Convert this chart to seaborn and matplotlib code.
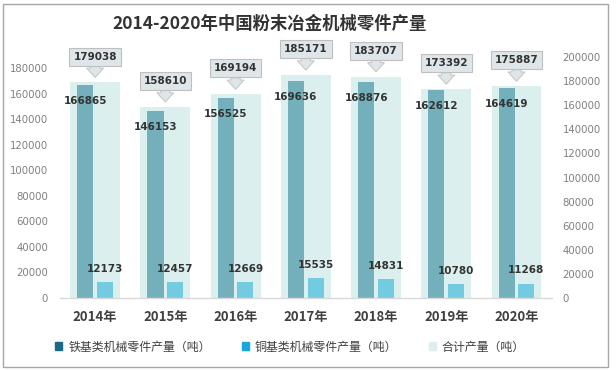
import matplotlib
matplotlib.use("Agg")
import matplotlib.pyplot as plt
from matplotlib.patches import Patch, Rectangle
import seaborn as sns
import pandas as pd

years = ["2014年", "2015年", "2016年", "2017年", "2018年", "2019年", "2020年"]
iron = [166865, 146153, 156525, 169636, 168876, 162612, 164619]
copper = [12173, 12457, 12669, 15535, 14831, 10780, 11268]
total = [179038, 158610, 169194, 185171, 183707, 173392, 175887]
series_names = ["铁基类机械零件产量（吨）", "铜基类机械零件产量（吨）", "合计产量（吨）"]
left_ticks = list(range(0, 180001, 20000))
right_ticks = list(range(0, 200001, 20000))

sns.set_style("white")
plt.rcParams['font.family'] = ['Noto Sans CJK SC', 'DejaVu Sans']

fig = plt.figure(figsize=(6.16, 3.70), dpi=100)
ax = fig.add_axes([60 / 616, 72 / 370, 491.6 / 616, 241 / 370])
ax2 = ax.twinx()

C_TOTAL = "#dbf0ee"
C_IRON = "#74b0bb"
C_COPPER = "#72cbe0"

df_total = pd.DataFrame({"year": years, "value": total})
sns.barplot(data=df_total, x="year", y="value", ax=ax2, color=C_TOTAL,
            width=0.71, saturation=1, linewidth=0, edgecolor="none")

df_parts = pd.DataFrame({
    "year": years * 2,
    "value": iron + copper,
    "kind": [series_names[0]] * len(years) + [series_names[1]] * len(years),
})
sns.barplot(data=df_parts, x="year", y="value", hue="kind", ax=ax,
            palette=[C_IRON, C_COPPER], width=0.56, gap=0.18, saturation=1,
            linewidth=0, edgecolor="none", legend=False)

ax.set_zorder(ax2.get_zorder() + 1)
ax.patch.set_visible(False)

ax.set_ylim(0, 188600)
ax2.set_ylim(0, 200000)
ax.set_xlim(-0.5, 6.5)
ax.set_yticks(left_ticks)
ax2.set_yticks(right_ticks)
ax.set_xlabel("")
ax.set_ylabel("")
ax2.set_xlabel("")
ax2.set_ylabel("")

for a in (ax, ax2):
    for s in a.spines.values():
        s.set_visible(False)
ax.spines["bottom"].set_visible(True)
ax.spines["bottom"].set_color("#d9d9d9")
ax.spines["bottom"].set_linewidth(1.0)

ax.tick_params(axis="y", length=0, pad=8.5, labelsize=7.3, labelcolor="#7f7f7f")
ax2.tick_params(axis="y", length=0, pad=8, labelsize=7.3, labelcolor="#7f7f7f")
for lab in ax.get_yticklabels() + ax2.get_yticklabels():
    lab.set_family("DejaVu Sans")
ax.tick_params(axis="x", length=0, pad=9)
ax.set_xticks(range(len(years)))
ax.set_xticklabels(years, fontsize=9.5, fontweight="bold", color="#404040")

num_font = dict(family="DejaVu Sans", fontweight="bold", fontsize=7.5, color="#333333")

# iron & copper labels from bar patches
bars = [p for p in ax.patches if p.get_height() > 0]
for p in bars:
    xc = p.get_x() + p.get_width() / 2
    h = p.get_height()
    if h > 50000:
        ax.annotate(f"{int(round(h))}", xy=(xc, h), xytext=(0, -11.5),
                    textcoords="offset points", ha="center", va="center", **num_font)
    else:
        ax.annotate(f"{int(round(h))}", xy=(xc, h), xytext=(0, 9.5),
                    textcoords="offset points", ha="center", va="center", **num_font)

# total callouts
for i, t in enumerate(total):
    ax2.annotate(f"{t}", xy=(i, t), xytext=(0, 18.5), textcoords="offset points",
                 ha="center", va="center", **num_font,
                 bbox=dict(boxstyle="square,pad=0.38", fc="#dfe6ea", ec="#bfbfbf", lw=0.8),
                 arrowprops=dict(arrowstyle="simple,head_length=0.55,head_width=1.0,tail_width=0.55",
                                 mutation_scale=12, fc="#dfe6ea", ec="#c8c8c8", lw=0.8,
                                 shrinkA=0, shrinkB=3.5))

# legend
handles = [Patch(color="#1a6a86"), Patch(color="#19a6da"), Patch(color=C_TOTAL)]
fig.legend(handles, series_names, loc="center", bbox_to_anchor=(290 / 616, 1 - 347 / 370),
           ncol=3, frameon=False, fontsize=8.6, handlelength=0.6, handleheight=0.6,
           handletextpad=0.5, columnspacing=2.6, labelcolor="#404040")

fig.text(269.5 / 616, 1 - 23.5 / 370, "2014-2020年中国粉末冶金机械零件产量",
         ha="center", va="center", fontsize=12.5, fontweight="bold", color="#333333")

fig.patches.append(Rectangle((3 / 616, 3 / 370), 605 / 616, 363 / 370,
                             transform=fig.transFigure, fill=False, ec="#a6a6a6", lw=1.0))

fig.savefig("out.png", dpi=100)
